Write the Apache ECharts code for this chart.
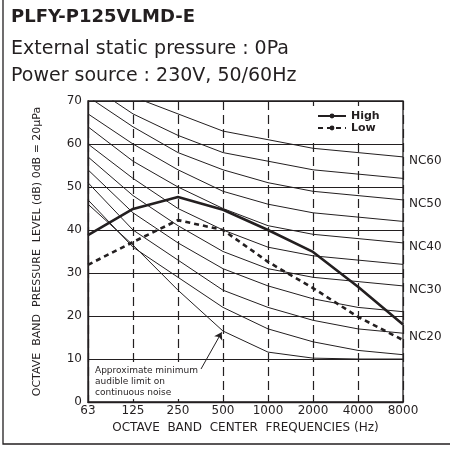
<!DOCTYPE html>
<html>
<head>
<meta charset="utf-8">
<script src="https://cdn.jsdelivr.net/npm/echarts@6/dist/echarts.min.js"></script>
<style>
  html, body { margin: 0; padding: 0; background: #fff; }
  #chart { width: 450px; height: 450px; }
</style>
</head>
<body>
<div id="chart"></div>
<script>
// octave band centre frequencies (x axis)
const freqs = ['63', '125', '250', '500', '1000', '2000', '4000', '8000'];
const yTicks = [0, 10, 20, 30, 40, 50, 60, 70];

// NC reference curves, dB at each band
const ncNames = ['NC15', 'NC20', 'NC25', 'NC30', 'NC35', 'NC40', 'NC45', 'NC50', 'NC55', 'NC60'];
const ncCurves = [
  [47, 36, 29, 22, 17, 14, 12, 11],
  [51, 40, 33, 26, 22, 19, 17, 16],
  [54, 44, 37, 31, 27, 24, 22, 21],
  [57, 48, 41, 35, 31, 29, 28, 27],
  [60, 52, 45, 40, 36, 34, 33, 32],
  [64, 56, 50, 45, 41, 39, 38, 37],
  [67, 60, 54, 49, 46, 44, 43, 42],
  [71, 64, 58, 54, 51, 49, 48, 47],
  [74, 67, 62, 58, 56, 54, 53, 52],
  [77, 71, 67, 63, 61, 59, 58, 57]
];
const ncLabelled = ['NC20', 'NC30', 'NC40', 'NC50', 'NC60'];

// approximate minimum audible limit on continuous noise
const audibleLimit = [46, 36.5, 26, 16.5, 11.6, 10.2, 10, 10];

// measured unit noise
const highLevels = [38.8, 44.9, 47.7, 44.7, 40, 34.9, 26.8, 18];
const lowLevels = [31.9, 37.2, 42.3, 40, 32.6, 26.5, 19.8, 14.4];

const ink = '#231f20';
const font = 'DejaVu Sans';

function toPoints(arr) {
  return arr.map((v, i) => [i, v]);
}

const chart = echarts.init(document.getElementById('chart'));

const ncSeries = ncNames.map((name, k) => ({
  name: name,
  type: 'line',
  data: toPoints(ncCurves[k]),
  symbol: 'none',
  silent: true,
  z: 2,
  lineStyle: { color: ink, width: 1 },
  endLabel: {
    show: ncLabelled.indexOf(name) >= 0,
    formatter: name,
    color: ink,
    fontFamily: font,
    fontSize: 12,
    distance: 6,
    offset: [0, 4]
  }
}));

const option = {
  animation: false,
  title: {
    text: 'PLFY-P125VLMD-E',
    subtext: 'External static pressure : 0Pa\nPower source : 230V, 50/60Hz',
    left: 6,
    top: 3,
    itemGap: 10,
    textStyle: { color: ink, fontFamily: font, fontSize: 18, fontWeight: 'bold' },
    subtextStyle: { color: ink, fontFamily: font, fontSize: 19, lineHeight: 27 }
  },
  legend: {
    data: ['High', 'Low'],
    orient: 'vertical',
    left: 312,
    top: 106,
    padding: [4, 6, 4, 5],
    backgroundColor: '#fff',
    itemWidth: 28,
    itemHeight: 6,
    itemGap: 0,
    textStyle: { color: ink, fontFamily: font, fontSize: 11, fontWeight: 'bold', lineHeight: 12 }
  },
  grid: {
    left: 88,
    right: 47,
    top: 101,
    bottom: 48,
    show: true,
    borderColor: ink,
    borderWidth: 1.3
  },
  xAxis: {
    type: 'value',
    min: 0,
    max: freqs.length - 1,
    interval: 1,
    name: 'OCTAVE  BAND  CENTER  FREQUENCIES (Hz)',
    nameLocation: 'middle',
    nameGap: 20,
    nameTextStyle: { color: ink, fontFamily: font, fontSize: 12 },
    axisLine: { lineStyle: { color: ink, width: 1.3 } },
    axisTick: { show: false },
    axisLabel: {
      color: ink,
      fontFamily: font,
      fontSize: 12,
      margin: 3,
      formatter: (v) => freqs[v]
    },
    splitLine: { show: true, lineStyle: { color: ink, width: 1.2, type: [9, 5] } }
  },
  yAxis: {
    type: 'value',
    min: yTicks[0],
    max: yTicks[yTicks.length - 1],
    interval: 10,
    name: 'OCTAVE  BAND  PRESSURE  LEVEL (dB) 0dB = 20\u03bcPa',
    nameLocation: 'middle',
    nameGap: 45,
    nameRotate: 90,
    nameTextStyle: { color: ink, fontFamily: font, fontSize: 11, padding: [0, 0, 0, 0] },
    axisLine: { show: true, lineStyle: { color: ink, width: 1.3 } },
    axisTick: { show: false },
    axisLabel: { color: ink, fontFamily: font, fontSize: 12, margin: 6 },
    splitLine: { show: true, lineStyle: { color: ink, width: 1.1 } }
  },
  series: ncSeries.concat([
    {
      name: 'Audible limit',
      type: 'line',
      data: toPoints(audibleLimit),
      symbol: 'none',
      silent: true,
      z: 2,
      lineStyle: { color: ink, width: 1 },
      markLine: {
        silent: true,
        symbol: ['none', 'arrow'],
        symbolSize: 7,
        label: { show: false },
        lineStyle: { color: ink, width: 1, type: 'solid' },
        data: [[{ x: 201, y: 369 }, { coord: [2.97, 16.2] }]]
      }
    },
    {
      name: 'High',
      type: 'line',
      data: toPoints(highLevels),
      symbol: 'none',
      z: 3,
      color: ink,
      lineStyle: { color: ink, width: 2.6 },
      legendIcon: 'path://M0,3a2,2 0 1,0 4,0a2,2 0 1,0 -4,0zM24,3a2,2 0 1,0 4,0a2,2 0 1,0 -4,0zM2,2h24v2h-24z'
    },
    {
      name: 'Low',
      type: 'line',
      data: toPoints(lowLevels),
      symbol: 'none',
      z: 3,
      color: ink,
      lineStyle: { color: ink, width: 2.6, type: [5, 4] },
      legendIcon: 'path://M0,3a2,2 0 1,0 4,0a2,2 0 1,0 -4,0zM24,3a2,2 0 1,0 4,0a2,2 0 1,0 -4,0zM5,2h4v2h-4zM12,2h4v2h-4zM19,2h4v2h-4z'
    }
  ]),
  graphic: [
    {
      type: 'polyline',
      silent: true,
      shape: { points: [[3, 0], [3, 444], [450, 444]] },
      style: { stroke: ink, lineWidth: 1.3, fill: null }
    },
    {
      type: 'text',
      silent: true,
      left: 93,
      top: 364,
      z: 10,
      style: {
        text: 'Approximate minimum\naudible limit on\ncontinuous noise',
        fill: ink,
        font: '9px "DejaVu Sans"',
        lineHeight: 11,
        backgroundColor: '#fff',
        padding: [1, 2]
      }
    }
  ]
};

chart.setOption(option);
</script>
</body>
</html>
